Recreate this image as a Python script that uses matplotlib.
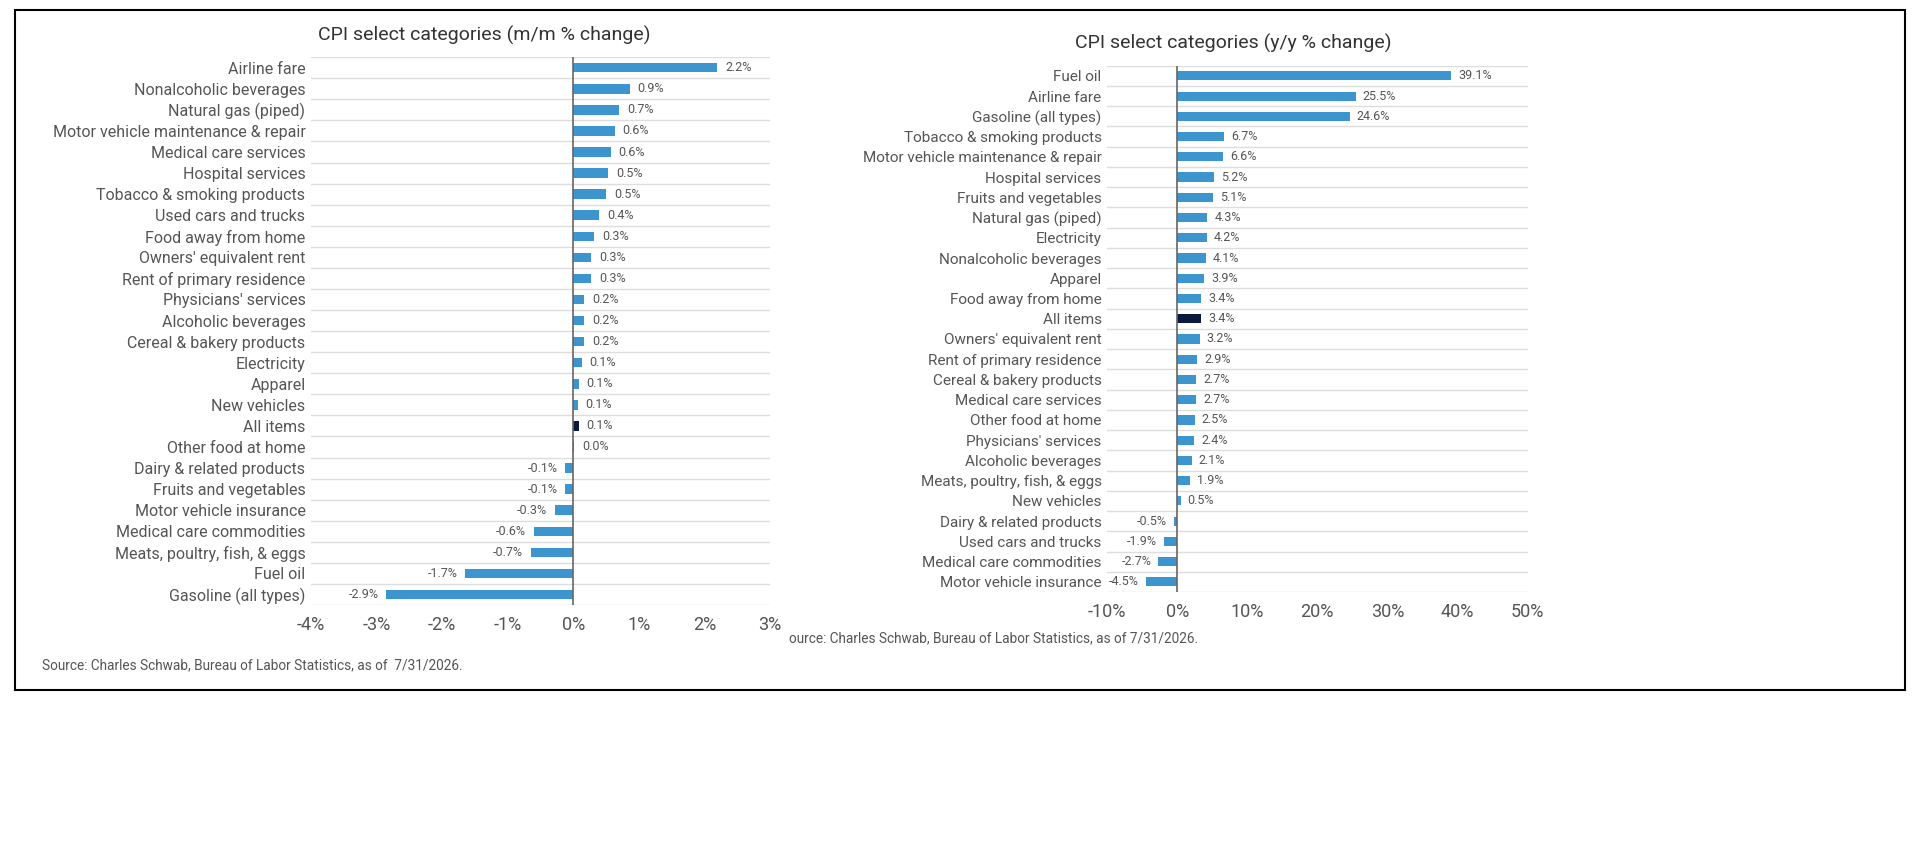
import matplotlib.pyplot as plt
from matplotlib.ticker import FuncFormatter
from matplotlib.patches import Rectangle

plt.rcParams["font.family"] = ["Roboto", "DejaVu Sans"]

# m/m % change (top to bottom)
mm_categories = [
    "Airline fare", "Nonalcoholic beverages", "Natural gas (piped)",
    "Motor vehicle maintenance & repair", "Medical care services",
    "Hospital services", "Tobacco & smoking products", "Used cars and trucks",
    "Food away from home", "Owners' equivalent rent", "Rent of primary residence",
    "Physicians' services", "Alcoholic beverages", "Cereal & bakery products",
    "Electricity", "Apparel", "New vehicles", "All items", "Other food at home",
    "Dairy & related products", "Fruits and vegetables", "Motor vehicle insurance",
    "Medical care commodities", "Meats, poultry, fish, & eggs", "Fuel oil",
    "Gasoline (all types)",
]
mm_values = [2.2, 0.9, 0.7, 0.6, 0.6, 0.5, 0.5, 0.4, 0.3, 0.3, 0.3, 0.2, 0.2,
             0.2, 0.1, 0.1, 0.1, 0.1, 0.0, -0.1, -0.1, -0.3, -0.6, -0.7, -1.7,
             -2.9]
# bar lengths as drawn (labels are rounded)
mm_bars = [2.2, 0.86, 0.7, 0.63, 0.57, 0.53, 0.5, 0.4, 0.32, 0.27, 0.27, 0.17,
           0.17, 0.17, 0.13, 0.08, 0.07, 0.08, 0.01, -0.12, -0.12, -0.28,
           -0.6, -0.65, -1.65, -2.85]

# y/y % change (top to bottom)
yy_categories = [
    "Fuel oil", "Airline fare", "Gasoline (all types)",
    "Tobacco & smoking products", "Motor vehicle maintenance & repair",
    "Hospital services", "Fruits and vegetables", "Natural gas (piped)",
    "Electricity", "Nonalcoholic beverages", "Apparel", "Food away from home",
    "All items", "Owners' equivalent rent", "Rent of primary residence",
    "Cereal & bakery products", "Medical care services", "Other food at home",
    "Physicians' services", "Alcoholic beverages", "Meats, poultry, fish, & eggs",
    "New vehicles", "Dairy & related products", "Used cars and trucks",
    "Medical care commodities", "Motor vehicle insurance",
]
yy_values = [39.1, 25.5, 24.6, 6.7, 6.6, 5.2, 5.1, 4.3, 4.2, 4.1, 3.9, 3.4,
             3.4, 3.2, 2.9, 2.7, 2.7, 2.5, 2.4, 2.1, 1.9, 0.5, -0.5, -1.9,
             -2.7, -4.5]

BLUE = "#3d95d0"
NAVY = "#0b1a3c"
TEXT = "#555555"
GRID = "#dddddd"


def draw_panel(ax, cats, values, bars, title, xlim, xticks, pad, fs_lab, title_x):
    ys = list(range(len(cats)))
    colors = [NAVY if c == "All items" else BLUE for c in cats]
    ax.barh(ys, bars, height=0.45, color=colors, zorder=2)
    for y, v, b in zip(ys, values, bars):
        if v >= 0:
            ax.text(b + pad, y, f"{v:.1f}%", va="center", ha="left",
                    fontsize=9, color=TEXT)
        else:
            ax.text(b - pad, y, f"{v:.1f}%", va="center", ha="right",
                    fontsize=9, color=TEXT)
    for y in range(len(cats) + 1):
        ax.axhline(y - 0.5, color=GRID, lw=1, zorder=1)
    ax.axvline(0, color="#666666", lw=1.2, zorder=3)
    ax.set_ylim(len(cats) - 0.5, -0.5)
    ax.set_xlim(*xlim)
    ax.set_xticks(xticks)
    ax.xaxis.set_major_formatter(FuncFormatter(lambda v, _: f"{v:.0f}%"))
    ax.set_yticks(ys)
    ax.set_yticklabels(cats, fontsize=fs_lab, color=TEXT)
    ax.tick_params(axis="x", labelsize=13, colors=TEXT, length=0, pad=8)
    ax.tick_params(axis="y", length=0, pad=4)
    for s in ax.spines.values():
        s.set_visible(False)
    ax.set_title(title, fontsize=14, color="#333333", loc="left",
                 x=title_x, pad=12)


fig = plt.figure(figsize=(19.2, 8.6), dpi=100)
fig.patches.append(Rectangle((0.008, 0.198), 0.984, 0.79, transform=fig.transFigure,
                             fill=False, edgecolor="black", lw=1.5))

ax1 = fig.add_axes([0.162, 0.2965, 0.239, 0.637])
draw_panel(ax1, mm_categories, mm_values, mm_bars,
           "CPI select categories (m/m % change)", (-4, 3), range(-4, 4),
           0.12, 11.5, 0.015)

ax2 = fig.add_axes([0.5766, 0.3116, 0.219, 0.612])
draw_panel(ax2, yy_categories, yy_values, yy_values,
           "CPI select categories (y/y % change)", (-10, 50),
           range(-10, 51, 10), 1.0, 11, -0.076)

fig.text(0.022, 0.222, "Source: Charles Schwab, Bureau of Labor Statistics, as of  7/31/2026.",
         fontsize=9.8, color=TEXT)
fig.text(0.411, 0.253, "ource: Charles Schwab, Bureau of Labor Statistics, as of 7/31/2026.",
         fontsize=9.8, color=TEXT)

fig.savefig("out.png", dpi=100)
